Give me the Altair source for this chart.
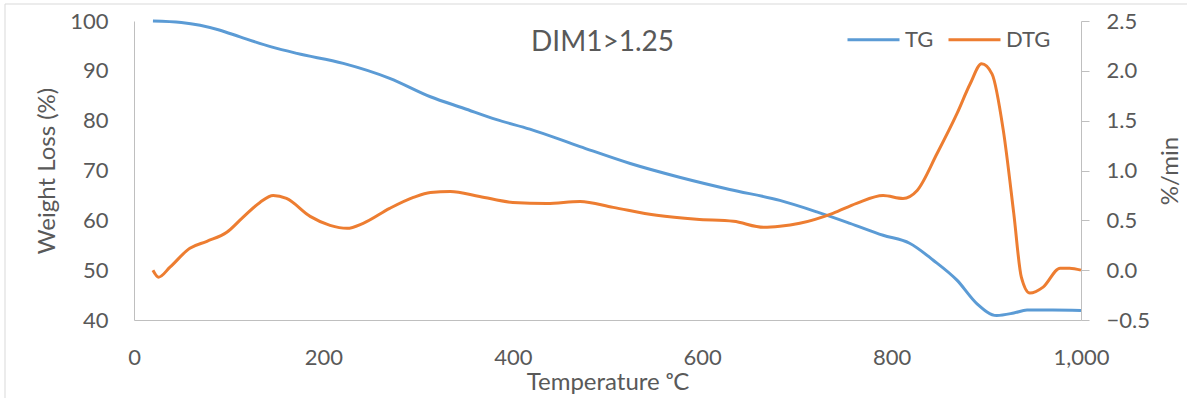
import altair as alt
import pandas as pd

# ---- data ----
tg_temp = [20, 50, 90, 112, 145, 172, 221, 270, 313, 348, 383, 418, 471, 524,
           577, 629, 682, 721, 756, 791, 819, 844, 869, 890, 911, 929, 943, 970, 1000]
tg_weight = [100.0, 99.7, 98.2, 96.8, 94.8, 93.5, 91.5, 88.5, 84.8, 82.5, 80.2, 78.3,
             74.8, 71.4, 68.6, 66.2, 64.0, 61.7, 59.4, 57.0, 55.4, 52.0, 48.0, 43.3,
             40.9, 41.4, 42.0, 42.0, 41.9]

dtg_temp = [20, 26, 38, 59, 77, 98, 115, 133, 147, 161, 186, 207, 225, 242, 270, 295,
            313, 334, 365, 400, 436, 471, 506, 552, 594, 633, 665, 682, 703, 738, 763,
            791, 812, 827, 848, 869, 883, 895, 906, 918, 929, 937, 946, 960, 978, 988, 1000]
dtg_rate = [0.0, -0.07, 0.03, 0.22, 0.29, 0.38, 0.53, 0.68, 0.75, 0.72, 0.54, 0.45,
            0.42, 0.47, 0.62, 0.73, 0.78, 0.79, 0.74, 0.68, 0.67, 0.69, 0.63, 0.55,
            0.51, 0.49, 0.43, 0.44, 0.47, 0.57, 0.67, 0.75, 0.72, 0.80, 1.17, 1.57,
            1.87, 2.07, 1.97, 1.40, 0.57, -0.07, -0.23, -0.17, 0.02, 0.02, 0.0]

series_names = ["TG", "DTG"]
series_colors = ["#5B9BD5", "#ED7D31"]

x_ticks = [0, 200, 400, 600, 800, 1000]
left_ticks = [40, 50, 60, 70, 80, 90, 100]
right_ticks = [-0.5, 0.0, 0.5, 1.0, 1.5, 2.0, 2.5]

tg_df = pd.DataFrame({"Temperature": tg_temp, "Value": tg_weight, "Series": "TG"})
dtg_df = pd.DataFrame({"Temperature": dtg_temp, "Value": dtg_rate, "Series": "DTG"})

FONT = "Lato"
TXT = "#595959"
AX = "#BFBFBF"
W, H = 947, 299

x_enc = alt.X(
    "Temperature:Q",
    scale=alt.Scale(domain=[0, 1000], nice=False, zero=False),
    axis=alt.Axis(values=x_ticks, format=",.0f", title="Temperature ᵒC", ticks=False,
                  labelFlush=False, labelPadding=27, titleX=W / 2, titleY=62,
                  titleBaseline="middle", titleAlign="center"),
)

color_enc = alt.Color(
    "Series:N",
    scale=alt.Scale(domain=series_names, range=series_colors),
    legend=alt.Legend(title=None, orient="none", legendX=712, legendY=-9,
                      direction="horizontal", symbolType="stroke", symbolSize=2704,
                      symbolStrokeWidth=3, labelFontSize=22, labelColor=TXT,
                      labelFont=FONT, columnPadding=8, labelOffset=4),
)

tg = alt.Chart(tg_df).mark_line(strokeWidth=3, interpolate="monotone").encode(
    x=x_enc,
    y=alt.Y("Value:Q",
            scale=alt.Scale(domain=[40, 100], nice=False, zero=False),
            axis=alt.Axis(values=left_ticks, orient="left", title="Weight Loss (%)",
                          ticks=False, labelPadding=26, titleX=-87, titleY=H / 2,
                          titleAngle=270, titleAlign="center", titleBaseline="middle")),
    color=color_enc,
)

dtg = alt.Chart(dtg_df).mark_line(strokeWidth=3, interpolate="monotone").encode(
    x=x_enc,
    y=alt.Y("Value:Q",
            scale=alt.Scale(domain=[-0.5, 2.5], nice=False, zero=False),
            axis=alt.Axis(values=right_ticks, orient="right", title="%/min",
                          format=".1f", ticks=True, tickSize=8, tickColor=AX,
                          labelPadding=17, titleX=89, titleY=H / 2, titleAngle=270,
                          titleAlign="center", titleBaseline="middle")),
    color=color_enc,
)

frame = alt.Chart(pd.DataFrame({"k": [0]})).mark_rect(
    fill="transparent", stroke="#D9D9D9", strokeWidth=1
).encode(x=alt.value(-129), x2=alt.value(1058), y=alt.value(-17), y2=alt.value(382))

chart = (
    alt.layer(frame, tg, dtg)
    .resolve_scale(y="independent")
    .properties(
        width=W, height=H,
        autosize=alt.AutoSizeParams(type="none"),
        padding={"left": 134, "top": 21, "right": 106, "bottom": 78},
        background="white",
        title=alt.TitleParams("DIM1>1.25", font=FONT, fontSize=28, color=TXT,
                              fontWeight="normal", anchor="middle", dy=57, dx=-5),
    )
    .configure_view(stroke=None)
    .configure_axis(
        grid=False, domainColor=AX, domainWidth=1,
        labelFont=FONT, labelFontSize=22, labelColor=TXT,
        titleFont=FONT, titleFontSize=24, titleColor=TXT, titleFontWeight="normal",
    )
)

chart.save("out.html", embed_options={"renderer": "svg", "actions": False})
